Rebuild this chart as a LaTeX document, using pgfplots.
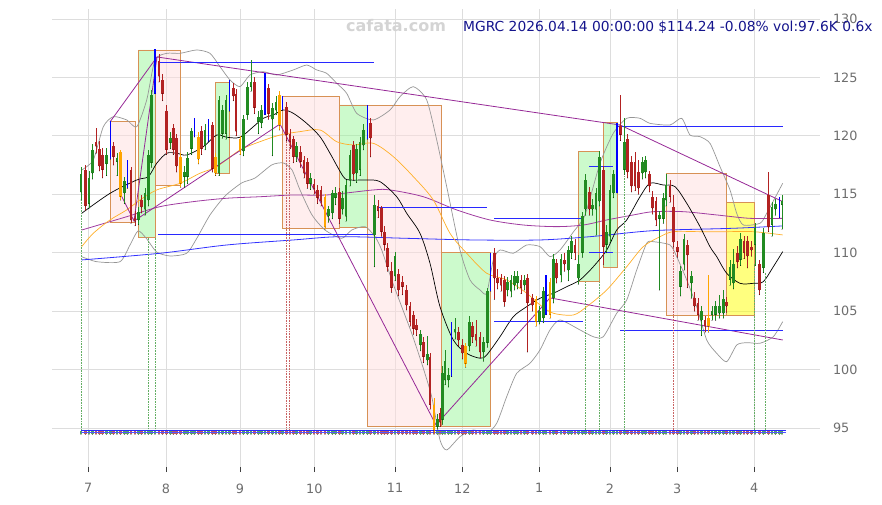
\documentclass[border=0pt]{standalone}
\usepackage{pgfplots}
\usepackage{pgfplotstable}
\usepackage{fontspec}
\setmainfont{DejaVu Sans}
\pgfplotsset{compat=1.18}
\definecolor{cgreen}{RGB}{34,139,34}
\definecolor{cred}{RGB}{178,34,34}
\definecolor{corange}{RGB}{255,165,0}
\definecolor{cblue}{RGB}{0,0,255}
\definecolor{maorange}{RGB}{255,175,40}
\definecolor{mapurple}{RGB}{160,60,160}
\definecolor{mablue}{RGB}{50,50,255}
\definecolor{bandgray}{RGB}{150,150,150}
\definecolor{zzpurple}{RGB}{150,40,150}
\definecolor{hblue}{RGB}{40,40,255}
\definecolor{boxedge}{RGB}{215,145,85}
\definecolor{pinkfill}{RGB}{255,221,221}
\definecolor{greenfill}{RGB}{153,245,153}
\definecolor{yellowfill}{RGB}{255,255,0}
\definecolor{tickgray}{RGB}{110,110,110}
\definecolor{titleblue}{RGB}{20,20,140}
\definecolor{gridgray}{RGB}{221,221,221}

% x = time position, o h l c = price
\pgfplotstableread{
x o h l c
81.0 115.2 117.3 114.5 116.7
89.0 114.2 117.0 113.8 116.4
92.3 116.8 119.3 116.3 118.8
106.7 117.6 119.0 116.6 118.4
117.0 117.8 118.5 116.6 118.1
124.3 115.1 116.5 114.2 116.1
138.3 112.8 113.9 112.4 113.5
145.0 113.7 115.5 113.2 115.1
148.3 114.5 118.8 114.0 118.4
151.7 117.7 123.9 117.3 123.5
170.3 119.4 120.3 118.9 119.8
184.7 116.5 117.4 115.6 116.9
187.7 116.5 118.6 115.9 118.1
191.7 118.9 120.7 118.4 120.4
205.0 119.2 121.0 118.8 120.5
219.0 116.8 123.4 116.6 123.1
222.3 120.2 122.6 119.8 122.2
226.0 120.2 123.5 119.7 123.1
243.3 118.7 121.8 118.3 121.4
247.3 121.8 124.6 121.4 124.2
251.0 124.2 126.5 123.8 124.6
258.3 121.2 122.1 120.2 121.6
261.7 121.1 122.6 120.7 122.2
272.3 121.4 122.8 118.3 122.4
276.0 122.2 123.4 121.8 122.9
296.7 118.2 119.5 117.8 119.1
310.7 115.9 116.8 115.4 116.4
328.3 113.1 114.0 112.6 113.7
332.3 113.4 115.4 112.9 115.1
335.7 114.7 115.6 114.1 115.1
342.7 113.7 115.3 113.3 114.7
346.0 113.1 116.2 112.7 115.8
350.0 116.2 118.8 115.7 118.4
356.7 116.8 119.3 116.0 118.9
360.0 117.1 119.9 116.6 119.5
363.3 119.2 121.0 118.8 120.5
374.3 111.5 114.9 108.8 114.1
395.0 108.0 110.1 107.6 109.7
420.7 102.1 103.4 101.6 103.0
427.3 100.8 102.9 100.4 101.3
437.3 95.1 96.2 94.9 95.8
442.3 95.7 100.3 95.3 99.7
445.0 99.1 101.7 98.7 100.7
448.3 99.1 100.1 98.5 99.5
455.0 103.2 104.4 102.6 103.5
469.3 102.0 104.6 101.6 104.1
483.3 101.5 102.8 100.7 102.4
487.3 102.3 107.0 101.9 106.7
507.7 106.8 107.9 106.3 107.5
511.0 106.7 108.1 106.2 107.7
514.3 107.2 108.4 106.8 108.0
517.7 107.4 108.4 106.9 108.0
524.3 107.2 108.1 106.8 107.7
539.3 104.1 105.4 103.9 105.0
543.3 104.4 107.1 104.0 106.7
553.3 106.1 109.9 105.7 109.5
561.0 108.1 109.9 107.5 109.5
568.3 108.5 110.6 107.6 110.2
571.7 110.0 111.4 109.5 111.0
578.3 107.8 109.8 107.3 109.0
582.3 110.0 113.5 109.6 113.1
585.7 113.7 116.7 113.2 116.2
592.3 113.7 114.6 113.2 114.1
596.0 113.7 115.5 111.5 115.1
599.3 114.4 118.7 114.0 118.2
606.7 110.7 112.4 110.0 111.8
610.0 111.4 115.8 110.9 115.4
613.3 115.1 117.1 114.7 116.7
624.3 117.1 121.5 116.7 119.5
642.3 116.8 118.2 116.3 117.8
645.7 116.9 118.3 116.4 117.9
659.3 112.9 113.6 106.8 113.2
663.3 112.9 115.1 112.5 114.7
666.0 114.5 116.7 114.0 115.8
680.7 107.1 108.9 106.3 108.4
684.0 109.0 111.6 108.5 111.2
691.3 107.4 108.4 106.1 108.0
701.3 104.2 105.4 102.9 105.0
712.0 104.7 105.4 104.2 105.0
715.7 104.7 105.9 104.2 105.4
719.3 104.8 106.4 104.4 105.4
723.3 104.8 106.8 104.4 106.0
730.0 107.7 109.4 107.2 108.8
733.3 107.4 110.3 106.9 109.0
740.7 109.4 111.7 108.9 111.2
755.0 110.7 112.5 108.9 112.1
763.3 108.7 112.1 108.3 111.7
772.0 112.4 114.3 111.4 113.9
775.3 113.7 114.6 113.2 114.2
782.0 114.1 114.9 112.0 114.4
}\tgreen

\pgfplotstableread{
x o h l c
85.7 117.1 117.5 113.6 114.0
96.0 119.5 120.7 118.5 119.1
99.3 118.9 119.6 117.0 117.4
102.7 118.4 119.0 116.4 117.1
113.7 119.1 119.5 117.5 118.2
131.0 117.1 117.3 112.5 112.8
135.0 113.0 113.6 112.3 112.7
141.7 114.5 114.9 113.4 113.9
159.0 126.4 127.0 124.6 125.1
162.7 124.8 125.3 123.0 123.6
166.3 122.1 122.6 118.4 118.8
173.3 120.7 121.0 118.4 118.8
176.7 119.8 120.2 116.9 117.4
201.7 120.4 120.8 118.4 118.9
212.3 120.9 121.2 116.9 117.2
233.3 124.1 124.5 123.0 123.4
236.0 123.6 124.0 120.0 120.4
254.3 124.6 125.0 121.9 122.4
268.3 124.1 124.4 121.4 121.9
286.7 122.5 122.9 119.6 120.1
290.0 120.2 120.6 118.9 119.5
293.3 119.7 120.0 117.7 118.2
300.7 118.6 119.1 117.3 117.8
304.0 117.9 118.3 116.4 116.8
307.3 117.8 118.1 115.5 115.9
314.0 115.9 116.3 115.0 115.5
317.7 115.4 115.8 114.2 114.7
321.0 115.4 115.7 114.0 114.4
339.3 115.2 115.5 112.5 112.9
353.3 119.2 119.6 116.2 116.7
370.7 121.1 121.5 118.2 119.8
378.0 114.0 114.5 113.0 113.6
381.7 113.8 114.0 111.4 111.8
384.3 111.8 112.3 110.2 110.7
387.7 110.4 110.8 108.4 108.8
391.7 108.4 109.2 106.6 107.0
398.3 108.2 108.6 106.3 106.8
402.3 107.5 108.0 106.4 107.1
406.7 106.8 107.2 105.1 105.5
410.0 105.4 105.8 103.7 104.1
413.3 104.7 105.0 103.0 103.5
416.7 103.8 104.3 102.9 103.4
423.3 102.4 102.8 100.6 101.1
430.0 101.1 101.4 96.6 97.0
440.0 96.3 96.7 95.1 95.5
458.3 103.2 103.6 102.0 102.5
462.3 102.1 102.6 100.9 101.4
472.3 103.7 104.1 102.3 102.8
476.0 103.0 104.2 102.0 102.5
480.0 102.8 103.2 101.0 101.5
494.3 110.0 110.4 106.0 107.8
497.7 107.8 108.6 106.9 107.4
501.0 107.8 108.2 106.7 107.2
504.3 107.7 108.0 105.4 105.8
521.0 107.7 108.1 106.5 107.0
527.3 107.8 108.2 101.5 105.7
532.3 106.1 106.5 105.0 105.5
556.7 109.1 109.5 107.4 107.8
564.3 109.4 110.0 108.4 109.0
575.0 110.7 111.2 109.4 110.0
589.3 115.2 115.6 113.2 113.7
603.3 117.1 117.4 109.0 110.5
620.3 120.8 123.5 119.6 120.1
627.7 119.7 120.2 116.4 116.9
631.7 117.8 118.3 115.2 115.7
635.0 117.8 118.6 115.3 115.7
638.3 116.9 117.9 115.0 115.5
649.3 116.7 117.0 115.2 115.7
652.7 114.8 115.3 113.3 113.8
656.0 114.4 114.8 112.3 112.8
670.0 115.7 116.2 114.3 114.8
673.3 113.9 114.9 110.5 110.9
677.3 110.5 111.0 109.6 110.1
687.3 110.7 111.1 107.0 109.8
694.7 106.1 106.6 105.0 105.4
698.0 105.7 106.1 104.2 104.7
705.0 104.2 104.6 103.2 103.7
726.7 105.8 106.2 104.9 105.4
737.3 110.0 110.6 108.7 109.2
744.0 111.0 111.4 109.5 110.0
747.3 111.0 111.4 108.7 109.7
751.7 110.5 111.0 109.7 110.2
759.3 109.0 109.4 106.4 106.8
768.7 114.9 116.9 111.8 112.2
}\tred

\pgfplotstableread{
x o h l c
120.7 118.6 118.8 114.5 114.8
180.7 118.2 118.5 115.6 115.9
198.3 119.9 120.3 117.6 118.0
215.7 118.2 118.5 116.6 116.8
240.0 119.7 120.0 118.4 118.7
279.3 123.5 123.8 120.5 120.9
325.0 114.8 115.0 112.0 112.2
434.0 97.0 97.6 94.6 94.8
465.7 102.0 102.3 100.2 100.5
536.0 106.0 106.3 103.7 104.1
550.0 107.5 107.8 104.4 104.7
708.3 104.4 108.1 103.2 103.7
}\torange

\pgfplotstableread{
x o h l c
110.3 118.2 121.3 118.0 121.2
127.3 115.6 117.9 115.5 117.8
155.0 123.6 127.4 123.6 127.4
194.3 119.9 121.5 119.9 121.4
208.3 119.5 121.4 119.5 121.4
229.3 122.1 124.8 122.1 124.8
265.0 121.8 125.4 121.8 125.4
282.7 122.2 123.4 122.2 123.4
367.3 119.7 122.6 119.7 122.6
451.7 99.4 104.1 99.4 104.1
490.7 106.7 110.0 106.7 110.0
546.0 104.7 108.1 104.7 108.1
617.0 115.1 121.1 115.1 121.1
779.3 113.0 114.8 113.0 114.8
}\tblue

\pgfplotsset{
  nomark/.style={only marks, mark=*, mark size=0.1pt, mark options={draw=none, fill=none}, forget plot},
  wick/.style={nomark,
    error bars/.cd, y dir=plus, y explicit, error mark=none,
    error bar style={line width=0.9pt, color=#1}},
  body/.style={nomark,
    error bars/.cd, y dir=plus, y explicit, error mark=none,
    error bar style={line width=2.6pt, color=#1}},
  vol/.style={nomark,
    error bars/.cd, y dir=plus, y explicit, error mark=none,
    error bar style={line width=2.8pt, color=#1}},
  box/.style={draw=boxedge, line width=0.9pt, fill=#1, fill opacity=0.5, draw opacity=1, forget plot},
}

\begin{document}
\begin{tikzpicture}[x=1pt,y=1pt]
\useasboundingbox (0,0) rectangle (882,505);
\begin{axis}[
  at={(52pt,38pt)}, anchor=south west,
  scale only axis, width=768pt, height=457.7pt,
  xmin=52, xmax=820, ymin=91.66, ymax=130.83,
  axis line style={draw=none},
  grid=major, grid style={gridgray, line width=0.8pt},
  xtick={88.3,166,240,314.3,395,462.3,539.3,610,677.3,754.3},
  xticklabels={7,8,9,10,11,12,1,2,3,4},
  ytick={95,100,...,130},
  xtick pos=bottom, ytick pos=right,
  yticklabel pos=right,
  tick align=outside,
  xtick style={draw=black!75, line width=0.8pt},
  ytick style={draw=none},
  major tick length=5pt,
  ticklabel style={font=\fontsize{12.8}{14}\selectfont, text=tickgray},
  xticklabel style={yshift=-8pt},
  yticklabel style={xshift=4.5pt},
  /pgf/number format/assume math mode=true,
]
% boxes
\addplot[box=pinkfill] coordinates {(110,121.21) (135,121.21) (135,112.57) (110,112.57) (110,121.21)};
\addplot[box=greenfill] coordinates {(138.3,127.35) (155.7,127.35) (155.7,111.32) (138.3,111.32) (138.3,127.35)};
\addplot[box=pinkfill] coordinates {(155.7,127.35) (180.7,127.35) (180.7,115.79) (155.7,115.79) (155.7,127.35)};
\addplot[box=greenfill] coordinates {(215,124.58) (229.3,124.58) (229.3,116.74) (215,116.74) (215,124.58)};
\addplot[box=pinkfill] coordinates {(282.3,123.35) (339.3,123.35) (339.3,112.09) (282.3,112.09) (282.3,123.35)};
\addplot[box=greenfill] coordinates {(339.3,122.64) (367.3,122.64) (367.3,112.14) (339.3,112.14) (339.3,122.64)};
\addplot[box=pinkfill] coordinates {(367.3,122.58) (441,122.58) (441,95.17) (367.3,95.17) (367.3,122.58)};
\addplot[box=greenfill] coordinates {(441.7,110.04) (490.7,110.04) (490.7,95.17) (441.7,95.17) (441.7,110.04)};
\addplot[box=greenfill] coordinates {(578.3,118.70) (599.3,118.70) (599.3,107.52) (578.3,107.52) (578.3,118.70)};
\addplot[box=greenfill] coordinates {(603.3,121.16) (617.7,121.16) (617.7,108.75) (603.3,108.75) (603.3,121.16)};
\addplot[box=pinkfill] coordinates {(666.7,116.80) (726,116.80) (726,104.61) (666.7,104.61) (666.7,116.80)};
\addplot[box=yellowfill] coordinates {(726,114.31) (754,114.31) (754,104.61) (726,104.61) (726,114.31)};

% Bollinger bands
\addplot[bandgray, line width=0.7pt, smooth, tension=0.4] coordinates {
(81.7,117.08) (93.3,117.93) (103.3,120.78) (113.3,121.64) (126.7,121.36) (136.7,120.78) (146.7,123.07) (155,126.49) (166.7,127.06) (180,127.06) (196.7,127.35) (210,127.06) (220,125.92) (230,124.78) (240,124.21) (250,125.21) (263.3,125.49) (276.7,125.21) (293.3,125.64) (306.7,126.06) (316.7,125.64) (326.7,125.35) (336.7,124.50) (346.7,123.64) (356.7,121.93) (373.3,121.36) (390,122.21) (400,123.35) (413.3,124.21) (426.7,123.07) (436.7,119.65) (446.7,115.65) (460,110.23) (470,107.67) (480,106.81) (486.7,106.53) (493.3,109.38) (500,110.23) (513.3,109.95) (526.7,110.66) (540,110.52) (550,109.66) (560,110.23) (573.3,111.77) (585,113.23) (600,117.65) (613.3,120.22) (626.7,121.50) (640,121.50) (650,121.07) (670,120.93) (681.7,121.50) (690,120.07) (700,119.93) (710,119.36) (720,117.36) (730,115.37) (736.7,113.37) (743.3,112.37) (760,112.52) (766.7,113.37) (782.7,115.94)};
\addplot[bandgray, line width=0.7pt, smooth, tension=0.4] coordinates {
(81.7,109.66) (96.7,109.23) (120,109.23) (130,110.66) (138,111.86) (146,111.26) (156.7,110.06) (170,109.72) (186.7,109.95) (197,111.26) (210,113.23) (225,114.85) (241.7,115.97) (255,116.39) (271.7,117.51) (283.3,117.68) (292,117.08) (300,115.37) (312,113.23) (325,111.94) (341.7,111.23) (351.7,111.94) (365,112.23) (375,111.37) (381.7,110.23) (391.7,107.67) (401.7,105.38) (411.7,103.10) (421.7,100.54) (431.7,97.68) (440,93.97) (446.7,93.12) (460,94.26) (473.3,94.83) (486.7,94.55) (496.7,95.40) (506.7,97.68) (516.7,99.68) (530,100.54) (540,101.68) (550,103.39) (560,104.24) (580,103.39) (593.3,102.81) (603.3,102.81) (616.7,104.82) (626.7,105.95) (636.7,108.52) (646.7,110.81) (653.3,110.94) (670,110.66) (676.7,109.66) (686.7,107.67) (696.7,105.38) (706.7,102.53) (716.7,101.39) (726.7,100.67) (736.7,102.10) (746.7,102.30) (760,102.25) (773.3,102.81) (782.7,104.10)};

% moving averages
\addplot[mablue, line width=0.8pt, smooth] coordinates {
(81.7,109.38) (160,109.95) (226.7,110.66) (293.3,111.09) (340,111.37) (406.7,111.23) (473.3,111.09) (540,111.09) (590,111.37) (640,111.80) (666.7,111.94) (733.3,112.09) (782.7,112.29)};
\addplot[mapurple, line width=0.8pt, smooth] coordinates {
(81.7,111.94) (126.7,113.08) (160,113.94) (193.3,114.37) (226.7,114.66) (260,114.79) (293.3,114.94) (326.7,114.94) (373.3,115.37) (390,115.37) (423.3,114.79) (456.7,113.66) (490,112.80) (523.3,112.37) (556.7,112.23) (583.3,112.37) (606.7,112.80) (633.3,113.23) (653.3,113.51) (683.3,113.51) (716.7,113.23) (750,112.94) (782.7,112.94)};
\addplot[maorange, line width=0.7pt, smooth] coordinates {
(81.7,110.52) (93.3,111.66) (110,112.80) (126.7,113.66) (140,114.51) (156.7,115.37) (180,115.94) (200,116.80) (216.7,117.36) (240,118.79) (260,119.50) (280,120.07) (300,120.36) (320,120.50) (336.7,119.50) (353.3,119.22) (373.3,119.36) (393.3,118.22) (413.3,116.51) (433.3,114.51) (450,111.66) (466.7,109.95) (486.7,108.24) (506.7,107.67) (526.7,106.53) (540,105.53) (553.3,104.82) (573.3,104.67) (586.7,105.38) (606.7,106.81) (626.7,108.80) (643.3,110.52) (660,111.37) (673.3,111.80) (700,111.80) (726.7,111.80) (753.3,111.80) (782.7,111.52)};
\addplot[black, line width=0.7pt, smooth] coordinates {
(81.7,113.37) (110,115.08) (136.7,116.22) (148.3,116.51) (156.7,117.65) (166.7,118.51) (176.7,118.51) (186.7,118.36) (203.3,119.07) (216.7,120.07) (226.7,119.88) (240,119.88) (253.3,120.78) (263.3,121.50) (273.3,121.79) (283.3,122.21) (293.3,121.93) (306.7,121.07) (320,119.93) (330,118.51) (343.3,116.51) (350,116.22) (366.7,116.22) (380,116.08) (396.7,114.79) (406.7,113.37) (420,111.66) (430,109.09) (440,105.38) (453.3,102.53) (466.7,101.39) (480,100.97) (486.7,101.25) (500,102.81) (513.3,104.52) (526.7,105.38) (540,106.10) (553.3,106.53) (566.7,107.09) (580,107.67) (593.3,108.80) (606.7,110.23) (616.7,111.94) (626.7,112.80) (640,114.79) (650,115.94) (663.3,115.79) (675,115.65) (686.7,114.23) (700,112.23) (710,110.51) (716.7,109.66) (726.7,108.24) (740,107.38) (753.3,107.38) (763.3,107.52) (773.3,108.80) (782.7,110.09)};

% zigzag trend lines
\addplot[zzpurple, line width=0.8pt] coordinates {(110,121.19) (157,126.75)};
\addplot[zzpurple, line width=0.8pt] coordinates {(121,114.94) (134,112.71) (157,126.75)};
\addplot[zzpurple, line width=0.8pt] coordinates {(134,112.71) (280,121.01) (436,95.26) (550,106.13) (782.7,102.53)};
\addplot[zzpurple, line width=0.8pt] coordinates {(157,126.75) (620,120.93) (782.7,114.37)};

% horizontal levels
\addplot[hblue, line width=0.8pt] coordinates {(158,126.29) (374,126.29)};
\addplot[hblue, line width=0.8pt] coordinates {(158,111.58) (375,111.58)};
\addplot[hblue, line width=0.8pt] coordinates {(378,113.89) (487,113.89)};
\addplot[hblue, line width=0.8pt] coordinates {(494,112.94) (582,112.94)};
\addplot[hblue, line width=0.8pt] coordinates {(494,104.16) (583,104.16)};
\addplot[hblue, line width=0.8pt] coordinates {(589,117.42) (613,117.42)};
\addplot[hblue, line width=0.8pt] coordinates {(589,110.04) (613,110.04)};
\addplot[hblue, line width=0.8pt] coordinates {(617,120.84) (783,120.84)};
\addplot[hblue, line width=0.8pt] coordinates {(620,103.39) (783,103.39)};

% signal verticals
\addplot[cgreen!70, densely dotted, line width=0.6pt] coordinates {(81.7,114.5) (81.7,94.6)};
\addplot[cgreen!70, densely dotted, line width=0.6pt] coordinates {(148.3,111.3) (148.3,94.6)};
\addplot[cgreen!70, densely dotted, line width=0.6pt] coordinates {(155.7,111.3) (155.7,94.6)};
\addplot[cgreen!70, densely dotted, line width=0.6pt] coordinates {(585.7,107.5) (585.7,94.6)};
\addplot[cgreen!70, densely dotted, line width=0.6pt] coordinates {(599.3,107.5) (599.3,94.6)};
\addplot[cgreen!70, densely dotted, line width=0.6pt] coordinates {(624.3,116.7) (624.3,94.6)};
\addplot[cgreen!70, densely dotted, line width=0.6pt] coordinates {(754.3,109.0) (754.3,94.6)};
\addplot[cgreen!70, densely dotted, line width=0.6pt] coordinates {(765.7,108.3) (765.7,94.6)};
\addplot[cred!70, densely dotted, line width=0.6pt] coordinates {(286.7,119.6) (286.7,94.6)};
\addplot[cred!70, densely dotted, line width=0.6pt] coordinates {(289.3,119.6) (289.3,94.6)};
\addplot[cred!70, densely dotted, line width=0.6pt] coordinates {(673.3,110.5) (673.3,94.6)};

% volume strip
\addplot[vol=cgreen!75] table[x=x, y expr=94.45, y error plus expr=0.33] {\tgreen};
\addplot[vol=cred!75] table[x=x, y expr=94.45, y error plus expr=0.33] {\tred};
\addplot[vol=cred!75] table[x=x, y expr=94.45, y error plus expr=0.33] {\torange};
\addplot[vol=cgreen!75] table[x=x, y expr=94.45, y error plus expr=0.33] {\tblue};
\addplot[hblue, line width=0.6pt] coordinates {(81,94.84) (786,94.84)};
\addplot[hblue!80, line width=0.4pt] coordinates {(81,94.64) (786,94.64)};

% candles
\addplot[wick=cgreen] table[x=x, y=l, y error plus expr={\thisrow{h}-\thisrow{l}}] {\tgreen};
\addplot[body=cgreen] table[x=x, y expr={min(\thisrow{o},\thisrow{c})}, y error plus expr={max(abs(\thisrow{c}-\thisrow{o}),0.08)}] {\tgreen};
\addplot[wick=cred] table[x=x, y=l, y error plus expr={\thisrow{h}-\thisrow{l}}] {\tred};
\addplot[body=cred] table[x=x, y expr={min(\thisrow{o},\thisrow{c})}, y error plus expr={max(abs(\thisrow{c}-\thisrow{o}),0.08)}] {\tred};
\addplot[wick=corange] table[x=x, y=l, y error plus expr={\thisrow{h}-\thisrow{l}}] {\torange};
\addplot[body=corange] table[x=x, y expr={min(\thisrow{o},\thisrow{c})}, y error plus expr={max(abs(\thisrow{c}-\thisrow{o}),0.08)}] {\torange};
\addplot[nomark, error bars/.cd, y dir=plus, y explicit, error mark=none,
  error bar style={line width=1.5pt, color=cblue}] table[x=x, y=l, y error plus expr={\thisrow{h}-\thisrow{l}}] {\tblue};
\end{axis}
\node[anchor=base west, inner sep=0pt, text=black!17, font=\bfseries\fontsize{16}{18}\selectfont] at (346,473.5) {cafata.com};
\node[anchor=base west, inner sep=0pt, text=titleblue, font=\fontsize{13.8}{16}\selectfont] at (463,473.5) {MGRC 2026.04.14 00:00:00 \$114.24 -0.08\% vol:97.6K 0.6x};
\end{tikzpicture}
\end{document}
